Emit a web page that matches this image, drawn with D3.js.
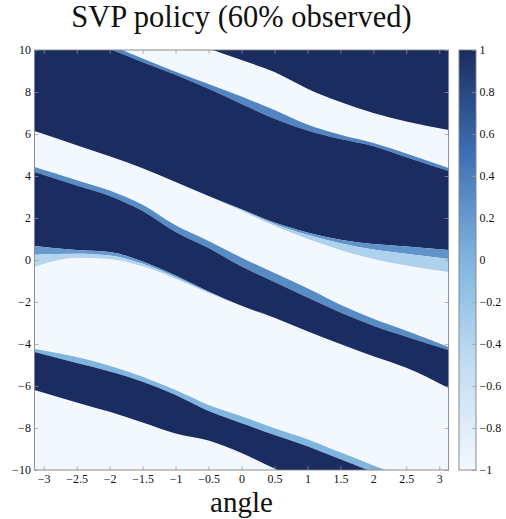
<!DOCTYPE html>
<html>
<head>
<meta charset="utf-8">
<script src="https://cdn.jsdelivr.net/npm/d3@7"></script>
<style>
  body { margin: 0; background: #fff; }
  text { font-family: "Liberation Serif", serif; fill: #111; }
</style>
</head>
<body>
<script>
var angles = [-Math.PI, -2.5, -2, -1.5, -1, -0.5, 0, 0.5, 1, 1.5, 2, 2.5, Math.PI];

// band edges (angular velocity) at each angle, top to bottom; values past +-10 fall off the plot
var topDarkLower     = [12.95, 12.24, 11.71, 11.19, 10.62, 10.07, 9.52, 8.95, 8.16, 7.52, 7.00, 6.60, 6.19];
var white1Lower      = [11.71, 10.88, 10.24, 9.60, 8.96, 8.38, 7.78, 7.14, 6.45, 5.96, 5.57, 5.07, 4.38];
var fringe1Lower     = [11.48, 10.67, 10.05, 9.42, 8.82, 8.15, 7.43, 6.73, 6.17, 5.76, 5.42, 4.89, 4.24];
var dark2Lower       = [6.14, 5.47, 4.94, 4.37, 3.71, 3.05, 2.42, 1.78, 1.31, 0.97, 0.76, 0.64, 0.48];
var fringe2Mid       = [6.14, 5.47, 4.94, 4.37, 3.71, 3.05, 2.39, 1.72, 1.20, 0.80, 0.50, 0.30, 0.05];
var white2Upper      = [6.14, 5.47, 4.94, 4.37, 3.71, 3.05, 2.35, 1.63, 1.01, 0.48, 0.05, -0.26, -0.57];
var white2Lower      = [4.43, 3.80, 3.31, 2.63, 1.65, 0.91, 0.11, -0.62, -1.35, -2.13, -2.80, -3.37, -4.14];
var dark3Upper       = [4.19, 3.55, 3.05, 2.33, 1.33, 0.57, -0.31, -1.05, -1.79, -2.50, -3.13, -3.65, -4.29];
var dark3Lower       = [0.67, 0.48, 0.38, -0.07, -0.74, -1.50, -2.18, -2.75, -3.39, -4.00, -4.58, -5.13, -6.10];
var fringe3Mid       = [0.25, 0.30, 0.22, -0.18, -0.82, -1.54, -2.18, -2.75, -3.39, -4.00, -4.58, -5.13, -6.10];
var white3Upper      = [-0.33, 0.11, 0.05, -0.30, -0.89, -1.57, -2.18, -2.75, -3.39, -4.00, -4.58, -5.13, -6.10];
var white3Lower      = [-4.24, -4.62, -5.03, -5.56, -6.19, -6.90, -7.44, -8.01, -8.53, -9.16, -9.78, -10.38, -11.19];
var dark4Upper       = [-4.38, -4.91, -5.31, -5.80, -6.43, -7.19, -7.77, -8.33, -8.87, -9.49, -10.11, -10.71, -11.52];
var dark4Lower       = [-6.19, -6.78, -7.23, -7.74, -8.26, -8.60, -9.19, -9.93, -10.57, -11.19, -11.81, -12.43, -13.24];

// policy value inside each band
var backgroundValue = -1;
var bandValues = [1, 0.35, 1, 0.25, -0.35, 0.3, 1, 0.2, -0.4, 0.0, 1];

var xTicks = [-3, -2.5, -2, -1.5, -1, -0.5, 0, 0.5, 1, 1.5, 2, 2.5, 3];
var yTicks = [-10, -8, -6, -4, -2, 0, 2, 4, 6, 8, 10];
var colorTicks = [-1, -0.8, -0.6, -0.4, -0.2, 0, 0.2, 0.4, 0.6, 0.8, 1];

var colorStops = [-1, -0.5, 0, 0.5, 1];
var colorRange = ["#f2f8fd", "#c2ddf2", "#80b5e0", "#3e71b3", "#1a2c60"];

var outerWidth = 506;
var outerHeight = 519;
var plotLeft = 34.4, plotRight = 448.6, plotTop = 50, plotBottom = 470;
var barLeft = 459, barRight = 476;
var tickLen = 4;
var frameColor = "#808080";

var yTop = angles.map(function() { return 10; });

// upper / lower edge of each coloured band
var bandPairs = [
    [yTop, topDarkLower],
    [white1Lower, fringe1Lower],
    [fringe1Lower, dark2Lower],
    [dark2Lower, fringe2Mid],
    [fringe2Mid, white2Upper],
    [white2Lower, dark3Upper],
    [dark3Upper, dark3Lower],
    [dark3Lower, fringe3Mid],
    [fringe3Mid, white3Upper],
    [white3Lower, dark4Upper],
    [dark4Upper, dark4Lower]
];
var bands = bandPairs.map(function(p, i) {
    return {
        value: bandValues[i],
        pts: angles.map(function(a, j) { return { a: a, hi: p[0][j], lo: p[1][j] }; })
    };
});

var x = d3.scaleLinear().domain([-Math.PI, Math.PI]).range([plotLeft, plotRight]);
var y = d3.scaleLinear().domain([-10, 10]).range([plotBottom, plotTop]);
var color = d3.scaleLinear().domain(colorStops).range(colorRange).interpolate(d3.interpolateRgb);
var cy = d3.scaleLinear().domain([-1, 1]).range([plotBottom, plotTop]);
var fmt = d3.format("~g");

var svg = d3.select("body").append("svg")
    .attr("width", outerWidth)
    .attr("height", outerHeight);

var defs = svg.append("defs");
defs.append("clipPath").attr("id", "plotclip")
    .append("rect")
    .attr("x", plotLeft).attr("y", plotTop)
    .attr("width", plotRight - plotLeft).attr("height", plotBottom - plotTop);

var grad = defs.append("linearGradient").attr("id", "cbar")
    .attr("x1", 0).attr("y1", 1).attr("x2", 0).attr("y2", 0);
d3.range(0, 1.0001, 0.05).forEach(function(t) {
    grad.append("stop").attr("offset", t).attr("stop-color", color(-1 + 2 * t));
});

/* heatmap */
var heat = svg.append("g").attr("clip-path", "url(#plotclip)");
heat.append("rect")
    .attr("x", plotLeft).attr("y", plotTop)
    .attr("width", plotRight - plotLeft).attr("height", plotBottom - plotTop)
    .attr("fill", color(backgroundValue));

var area = d3.area()
    .x(function(d) { return x(d.a); })
    .y0(function(d) { return y(d.lo); })
    .y1(function(d) { return y(d.hi); })
    .curve(d3.curveMonotoneX);

heat.selectAll("path.band")
    .data(bands)
    .enter()
    .append("path")
    .attr("class", "band")
    .attr("d", function(d) { return area(d.pts); })
    .attr("fill", function(d) { return color(d.value); });

/* axes, ticks inside on all four sides */
function styleAxis(g) {
    g.select(".domain").remove();
    g.selectAll(".tick line").attr("stroke", "#9a9a9a").attr("stroke-width", 0.7);
    g.selectAll(".tick text").attr("font-size", 12).attr("fill", "#111")
        .attr("font-family", "Liberation Serif, serif");
}

svg.append("g")
    .attr("transform", "translate(0," + plotBottom + ")")
    .call(d3.axisBottom(x).tickValues(xTicks).tickFormat(fmt).tickSizeInner(-tickLen).tickSizeOuter(0).tickPadding(4))
    .call(styleAxis);
svg.append("g")
    .attr("transform", "translate(0," + plotTop + ")")
    .call(d3.axisTop(x).tickValues(xTicks).tickFormat("").tickSizeInner(-tickLen).tickSizeOuter(0))
    .call(styleAxis);
svg.append("g")
    .attr("transform", "translate(" + plotLeft + ",0)")
    .call(d3.axisLeft(y).tickValues(yTicks).tickFormat(fmt).tickSizeInner(-tickLen).tickSizeOuter(0).tickPadding(3.5))
    .call(styleAxis);
svg.append("g")
    .attr("transform", "translate(" + plotRight + ",0)")
    .call(d3.axisRight(y).tickValues(yTicks).tickFormat("").tickSizeInner(-tickLen).tickSizeOuter(0))
    .call(styleAxis);

svg.append("rect")
    .attr("x", plotLeft).attr("y", plotTop)
    .attr("width", plotRight - plotLeft).attr("height", plotBottom - plotTop)
    .attr("fill", "none").attr("stroke", frameColor).attr("stroke-width", 0.9);

/* colorbar */
svg.append("rect")
    .attr("x", barLeft).attr("y", plotTop)
    .attr("width", barRight - barLeft).attr("height", plotBottom - plotTop)
    .attr("fill", "url(#cbar)");
svg.append("g")
    .attr("transform", "translate(" + barRight + ",0)")
    .call(d3.axisRight(cy).tickValues(colorTicks).tickFormat(fmt).tickSizeInner(-tickLen).tickSizeOuter(0).tickPadding(3.5))
    .call(styleAxis);
svg.append("rect")
    .attr("x", barLeft).attr("y", plotTop)
    .attr("width", barRight - barLeft).attr("height", plotBottom - plotTop)
    .attr("fill", "none").attr("stroke", frameColor).attr("stroke-width", 0.9);

/* labels */
svg.append("text")
    .attr("x", (plotLeft + plotRight) / 2).attr("y", 27)
    .attr("text-anchor", "middle").attr("font-size", 30.5)
    .text("SVP policy (60% observed)");
svg.append("text")
    .attr("x", (plotLeft + plotRight) / 2).attr("y", 512)
    .attr("text-anchor", "middle").attr("font-size", 29)
    .text("angle");
</script>
</body>
</html>
